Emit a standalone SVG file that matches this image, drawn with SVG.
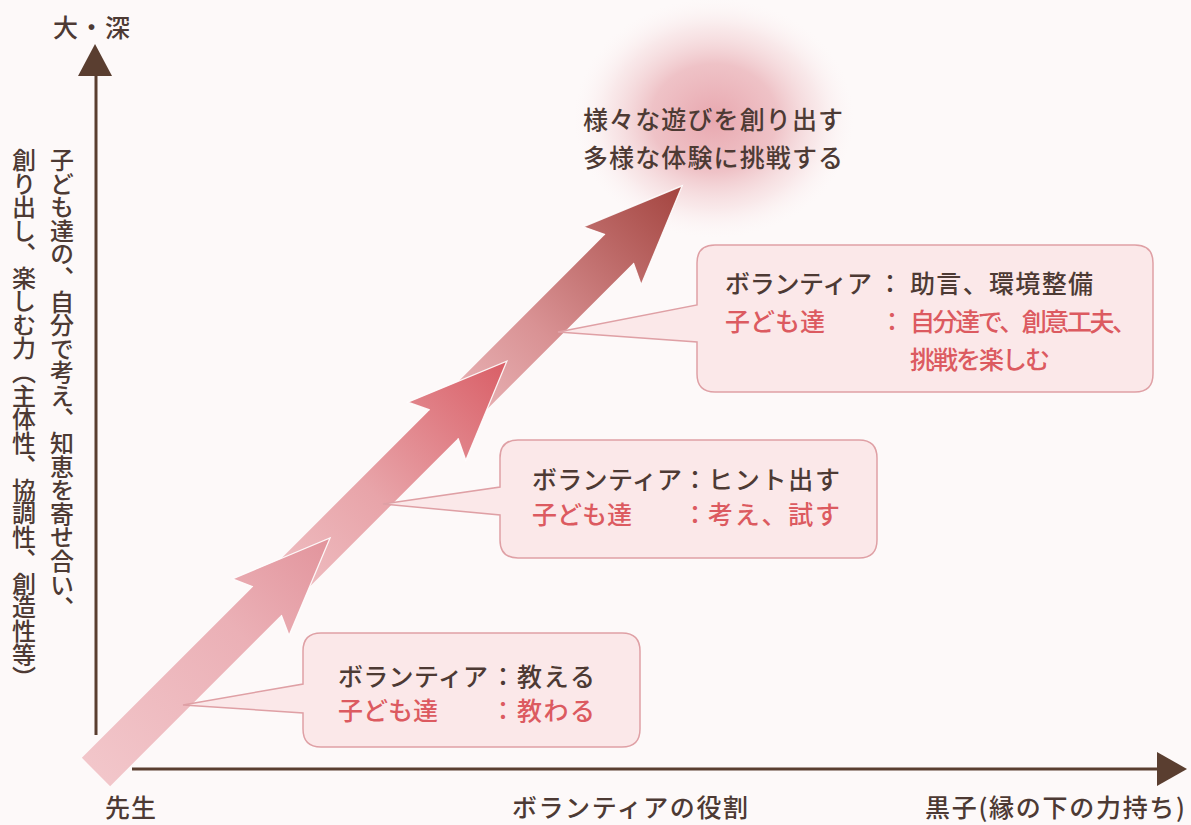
<svg xmlns="http://www.w3.org/2000/svg" width="1191" height="825" viewBox="0 0 1191 825">
  <style>
    .t { font-family: "Noto Sans CJK JP", "Noto Sans CJK SC", sans-serif; font-size: 25px; font-weight: 500; fill: #4d3a34; }
    .r { fill: #dc5a60; }
    .c { text-anchor: middle; }
    .bub { fill: #fbe8e9; stroke: #dfa0a5; stroke-width: 1.5; }
    .axis { stroke: #5a3e30; stroke-width: 3; fill: none; }
    .ah { fill: #5a3e30; }
    .hl { fill: none; stroke: #ffffff; stroke-width: 1.3; stroke-linejoin: miter; opacity: 0.9; }
    .vt { writing-mode: vertical-rl; font-size: 24px; }
  </style>
  <defs>
    <radialGradient id="glow" cx="0.5" cy="0.5" r="0.5">
      <stop offset="0" stop-color="#e7a3ab" stop-opacity="0.95"/>
      <stop offset="0.45" stop-color="#eab0b6" stop-opacity="0.75"/>
      <stop offset="0.75" stop-color="#f2cfd2" stop-opacity="0.4"/>
      <stop offset="1" stop-color="#fbf0f1" stop-opacity="0"/>
    </radialGradient>
    <linearGradient id="g1" gradientUnits="userSpaceOnUse" x1="0" y1="0" x2="331" y2="0">
      <stop offset="0" stop-color="#f2c6ca"/>
      <stop offset="0.6" stop-color="#ebb0b6"/>
      <stop offset="1" stop-color="#e2949c"/>
    </linearGradient>
    <linearGradient id="g2" gradientUnits="userSpaceOnUse" x1="240" y1="0" x2="581" y2="0">
      <stop offset="0" stop-color="#f0c2c6"/>
      <stop offset="0.45" stop-color="#e8a4a9"/>
      <stop offset="1" stop-color="#d95e66"/>
    </linearGradient>
    <linearGradient id="g3" gradientUnits="userSpaceOnUse" x1="490" y1="0" x2="829" y2="0">
      <stop offset="0" stop-color="#ecbabd"/>
      <stop offset="0.4" stop-color="#d99294"/>
      <stop offset="1" stop-color="#a3443f"/>
    </linearGradient>
  </defs>

  <rect x="0" y="0" width="1191" height="825" fill="#fdf9f9"/>

  <ellipse id="glow-area" cx="714" cy="118" rx="140" ry="120" fill="url(#glow)"/>

  <g id="axes">
    <line class="axis" x1="96" y1="72" x2="96" y2="735"/>
    <polygon class="ah" points="95,44 112,76 78,76"/>
    <line class="axis" x1="132" y1="769" x2="1162" y2="769"/>
    <polygon class="ah" points="1187,769 1157,752 1157,786"/>
  </g>

  <g id="connectors">
    <g id="growth-arrow" transform="translate(96,772) rotate(-45)">
      <polygon points="490,-20 740,-20 730,-41 829,0 730,41 740,20 490,20" fill="url(#g3)"/>
      <polyline class="hl" points="740,-20 730,-41 829,0 730,41 740,20"/>
      <polygon points="240,-20 492,-20 482,-41 581,0 482,41 492,20 240,20" fill="url(#g2)"/>
      <polyline class="hl" points="492,-20 482,-41 581,0 482,41 492,20"/>
      <polygon points="0,-20 242,-20 233,-40 331,0 233,40 242,20 0,20" fill="url(#g1)"/>
      <polyline class="hl" points="242,-20 233,-40 331,0 233,40 242,20"/>
    </g>
  </g>

  <g id="y-axis-label">
    <text class="t" x="53" y="37" font-size="23" textLength="77">大・深</text>
    <text class="t vt" x="62" y="148" textLength="472">子ども達の、自分で考え、知恵を寄せ合い、</text>
    <text class="t vt" x="24" y="148" textLength="542">創り出し、楽しむ力（主体性、協調性、創造性等）</text>
  </g>

  <g id="x-axis-labels">
    <text class="t" x="105" y="817" font-size="23" textLength="51">先生</text>
    <text class="t" x="512" y="817" font-size="23" textLength="236">ボランティアの役割</text>
    <text class="t" x="925" y="817" font-size="23" textLength="260">黒子(縁の下の力持ち)</text>
  </g>

  <g id="goal">
    <text class="t" x="583" y="129" textLength="260">様々な遊びを創り出す</text>
    <text class="t" x="583" y="167" textLength="260">多様な体験に挑戦する</text>
  </g>

  <g id="bubble-1">
    <path class="bub" d="M321,633 H622 Q640,633 640,651 V729 Q640,747 622,747 H321 Q303,747 303,729 V713 L183,705 L303,684 V651 Q303,633 321,633 Z"/>
    <text class="t" x="338" y="686" textLength="150">ボランティア</text>
    <text class="t c" x="503" y="686">：</text>
    <text class="t" x="517" y="686" textLength="78">教える</text>
    <text class="t r" x="338" y="720" textLength="100">子ども達</text>
    <text class="t r c" x="503" y="720">：</text>
    <text class="t r" x="517" y="720" textLength="78">教わる</text>
  </g>

  <g id="bubble-2">
    <path class="bub" d="M518,440 H859 Q877,440 877,458 V540 Q877,558 859,558 H518 Q500,558 500,540 V515 L383,504 L500,487 V458 Q500,440 518,440 Z"/>
    <text class="t" x="532" y="489" textLength="150">ボランティア</text>
    <text class="t c" x="695" y="489">：</text>
    <text class="t" x="708" y="489" textLength="132">ヒント出す</text>
    <text class="t r" x="532" y="524" textLength="100">子ども達</text>
    <text class="t r c" x="695" y="524">：</text>
    <text class="t r" x="708" y="524" textLength="132">考え、試す</text>
  </g>

  <g id="bubble-3">
    <path class="bub" d="M715,245 H1135 Q1153,245 1153,263 V374 Q1153,392 1135,392 H715 Q697,392 697,374 V342 L558,332 L697,305 V263 Q697,245 715,245 Z"/>
    <text class="t" x="725" y="293" textLength="147">ボランティア</text>
    <text class="t c" x="890" y="293">：</text>
    <text class="t" x="910" y="293" textLength="183">助言、環境整備</text>
    <text class="t r" x="725" y="331" textLength="100">子ども達</text>
    <text class="t r c" x="892" y="331">：</text>
    <text class="t r" x="910" y="331" textLength="227">自分達で、創意工夫、</text>
    <text class="t r" x="910" y="369" textLength="140">挑戦を楽しむ</text>
  </g>
</svg>
